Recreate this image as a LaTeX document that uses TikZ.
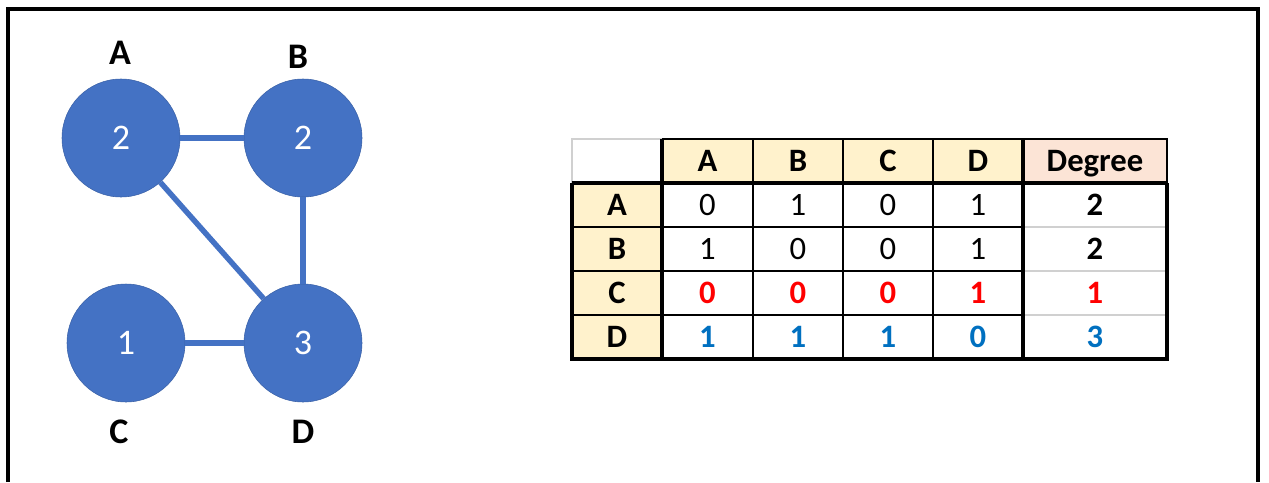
\documentclass[tikz,border=0pt]{standalone}
\usepackage{fontspec}
\setmainfont{Carlito}
\definecolor{nodeblue}{HTML}{4472C4}
\definecolor{hdryellow}{HTML}{FFF2CC}
\definecolor{hdrorange}{HTML}{FCE4D6}
\definecolor{numred}{HTML}{FF0000}
\definecolor{numblue}{HTML}{0070C0}
\definecolor{lightline}{HTML}{D0D0D0}
\tikzset{
  vertex/.style={circle, fill=nodeblue, draw=nodeblue!85!black, line width=0.4pt, minimum size=88.5pt, inner sep=0pt, text=white, font=\fontsize{27}{27}\selectfont, text height=17pt, text depth=0pt},
  vlabel/.style={inner sep=0pt, font=\fontsize{27}{27}\selectfont\bfseries, text height=17.4pt, text depth=0pt},
  edge/.style={nodeblue, line width=4.1pt},
  cell/.style={inner sep=0pt, font=\fontsize{24.5}{24.5}\selectfont, text height=15.6pt, text depth=0pt},
  bcell/.style={cell, font=\fontsize{24.5}{24.5}\selectfont\bfseries},
  thinline/.style={black, line width=0.8pt},
  medline/.style={black, line width=1.5pt},
  thickline/.style={black, line width=2.3pt},
  grayline/.style={lightline, line width=1.2pt},
  frame/.style={black, line width=2.8pt}
}
\begin{document}
\begin{tikzpicture}[x=0.75pt,y=-0.75pt]
\useasboundingbox (0,0) rectangle (1269,482);
% outer frame
\coordinate (fbl) at (8,482);
\coordinate (ftl) at (8,9);
\coordinate (ftr) at (1258,9);
\coordinate (fbr) at (1258,482);
\draw[frame, line join=miter] (fbl) -- (ftl) -- (ftr) -- (fbr);

% graph
\node[vertex] (A) at (121,138) {2};
\node[vertex] (B) at (303,138) {2};
\node[vertex] (C) at (126,343) {1};
\node[vertex] (D) at (303,343) {3};
\draw[edge] (A) -- (B);
\draw[edge] (B) -- (D);
\draw[edge] (A) -- (D);
\draw[edge] (C) -- (D);
\node[vlabel] (lA) at (120,53) {A};
\node[vlabel] (lB) at (298,57) {B};
\node[vlabel] (lC) at (119,432) {C};
\node[vlabel] (lD) at (303,432) {D};

% table fills
\fill[hdryellow] (662,139) rectangle (1023,183);
\fill[hdrorange] (1023,139) rectangle (1167,183);
\fill[hdryellow] (572,183) rectangle (662,359);

% table grid lines
\draw[grayline] (572,183) -- (572,139) -- (662,139);
\draw[thinline] (662,139) -- (1167,139) -- (1167,183);
\foreach \x in {753,843,933} {
  \draw[thinline] (\x,139) -- (\x,359);
}
\foreach \y in {227,271,315} {
  \draw[medline] (572,\y) -- (1023,\y);
  \draw[grayline] (1024,\y) -- (1166,\y);
}
\draw[thickline] (572,183) -- (1167,183);
\draw[thickline] (662,139) -- (662,359);
\draw[thickline, line join=miter] (572,183) -- (572,359) -- (1167,359) -- (1167,183);
\draw[thickline] (1023,139) -- (1023,359);

% table text
\node[bcell] (hA) at (707.5,161) {A};
\node[bcell] (hB) at (798,161) {B};
\node[bcell] (hC) at (888,161) {C};
\node[bcell] (hD) at (978,161) {D};
\node[bcell] (hDeg) at (1095,161) {Degree};
\node[bcell] (rA) at (617,205) {A};
\node[bcell] (rB) at (617,249) {B};
\node[bcell] (rC) at (617,293) {C};
\node[bcell] (rD) at (617,337) {D};

\node[cell] (aa) at (707.5,205) {0};
\node[cell] (ab) at (798,205) {1};
\node[cell] (ac) at (888,205) {0};
\node[cell] (ad) at (978,205) {1};
\node[bcell] (adeg) at (1095,205) {2};

\node[cell] (ba) at (707.5,249) {1};
\node[cell] (bb) at (798,249) {0};
\node[cell] (bc) at (888,249) {0};
\node[cell] (bd) at (978,249) {1};
\node[bcell] (bdeg) at (1095,249) {2};

\node[bcell, text=numred] (ca) at (707.5,293) {0};
\node[bcell, text=numred] (cb) at (798,293) {0};
\node[bcell, text=numred] (cc) at (888,293) {0};
\node[bcell, text=numred] (cd) at (978,293) {1};
\node[bcell, text=numred] (cdeg) at (1095,293) {1};

\node[bcell, text=numblue] (da) at (707.5,337) {1};
\node[bcell, text=numblue] (db) at (798,337) {1};
\node[bcell, text=numblue] (dc) at (888,337) {1};
\node[bcell, text=numblue] (dd) at (978,337) {0};
\node[bcell, text=numblue] (ddeg) at (1095,337) {3};
\end{tikzpicture}
\end{document}
